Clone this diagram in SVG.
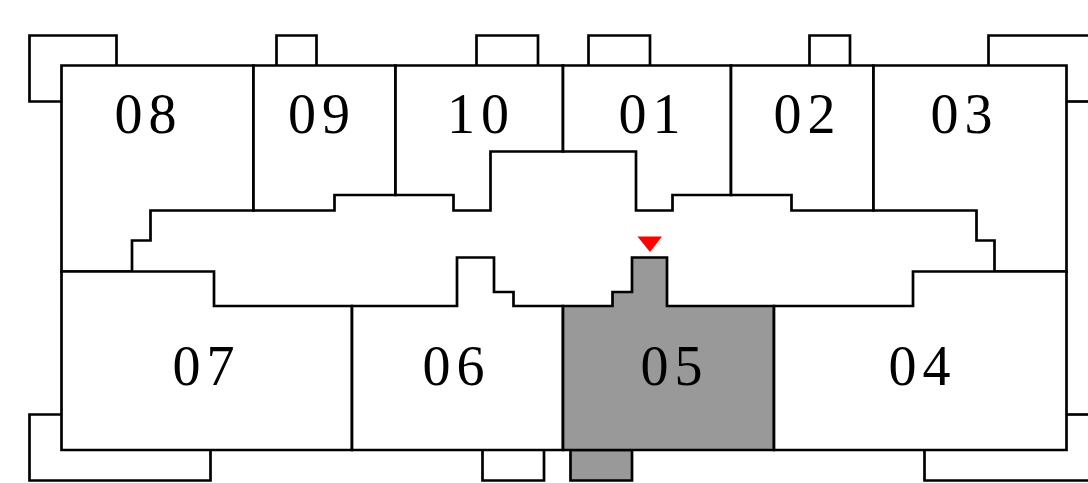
<svg xmlns="http://www.w3.org/2000/svg" width="1088" height="483" viewBox="0 0 1088 483">
<style>
.w{fill:none;stroke:#000;stroke-width:2.7;stroke-linejoin:miter;stroke-linecap:square}
.u{fill:#fff;stroke:#000;stroke-width:2.7;stroke-linejoin:miter}
.s{fill:#999;stroke:#000;stroke-width:2.7;stroke-linejoin:miter}
text{font-family:"Liberation Serif","Times New Roman",serif;font-size:56px;letter-spacing:6px;fill:#000}
</style>
<rect width="1088" height="483" fill="#fff"/>
<g id="balconies">
<path class="w" d="M116.5 65.5V35.5H29.5V101.5H61.5"/>
<path class="w" d="M276.5 65.5V35.5H316.5V65.5"/>
<path class="w" d="M476.5 65.5V35.5H538V65.5"/>
<path class="w" d="M588.5 65.5V35.5H650V65.5"/>
<path class="w" d="M809.5 65.5V35.5H850V65.5"/>
<path class="w" d="M988.5 65.5V35.5H1089"/>
<path class="w" d="M1066.5 101.5H1089"/>
<path class="w" d="M61.5 414.5H29.5V480.5H210.5V450"/>
<path class="w" d="M482.5 450V480.5H544V450"/>
<path class="s" d="M570.5 450V480.5H632V450Z"/>
<path class="w" d="M924.5 450V480.5H1089"/>
<path class="w" d="M1066.5 414.5H1089"/>
</g>
<g id="unit-08"><path class="u" d="M61.5 65.5H253.5V210.5H150.5V240.5H132V271.5H61.5Z"/><text x="114.5" y="133">08</text></g>
<g id="unit-09"><path class="u" d="M253.5 65.5H395.5V195H334.5V210.5H253.5Z"/><text x="288" y="133">09</text></g>
<g id="unit-10"><path class="u" d="M395.5 65.5H563V151.5H490.5V210.5H453.5V195H395.5Z"/><text x="447" y="133">10</text></g>
<g id="unit-01"><path class="u" d="M563 65.5H731V195H672.5V210.5H636V151.5H563Z"/><text x="618.5" y="133">01</text></g>
<g id="unit-02"><path class="u" d="M731 65.5H873.5V210.5H791.5V195H731Z"/><text x="773.5" y="133">02</text></g>
<g id="unit-03"><path class="u" d="M873.5 65.5H1066.5V271.5H994.5V240.5H976.5V210.5H873.5Z"/><text x="930.5" y="133">03</text></g>
<g id="unit-07"><path class="u" d="M61.5 271.5H214V306H352V450H61.5Z"/><text x="172.5" y="385">07</text></g>
<g id="unit-06"><path class="u" d="M352 306H457V257.5H494V292H513.5V306H563V450H352Z"/><text x="422.5" y="385">06</text></g>
<g id="unit-05"><path class="s" d="M563 306H612.5V292H632V257.5H667V306H774V450H563Z"/><text x="640.5" y="385">05</text></g>
<g id="unit-04"><path class="u" d="M774 306H913V271.5H1066.5V450H774Z"/><text x="888.5" y="385">04</text></g>
<g id="marker"><path fill="#f00" d="M637.5 236.5H662L650 252Z"/></g>
</svg>
